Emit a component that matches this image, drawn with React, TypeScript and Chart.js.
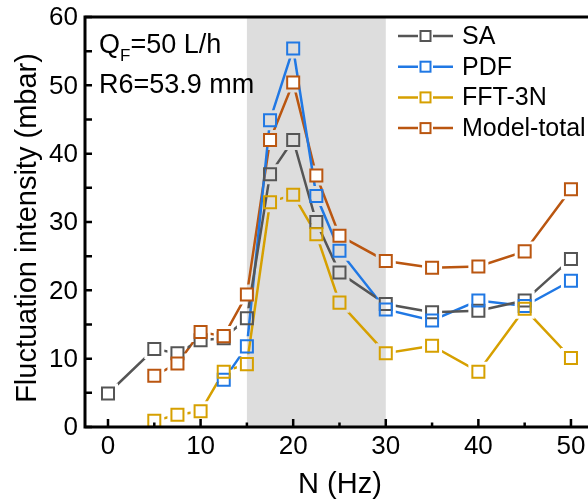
import React, { useEffect, useRef } from "react";
import { Chart, registerables } from "chart.js";

Chart.register(...registerables);

const SERIES_NAMES = ["SA", "PDF", "FFT-3N", "Model-total"];
const SERIES_COLORS = ["rgb(85,85,85)", "rgb(32,120,228)", "rgb(214,160,0)", "rgb(186,86,16)"];
const SERIES_FILLS = ["rgba(0,0,0,0)", "rgba(0,0,0,0)", "rgba(0,0,0,0)", "#ffffff"];

const SA_N = [0, 5, 7.5, 10, 12.5, 15, 17.5, 20, 22.5, 25, 30, 35, 40, 45, 50];
const SA_VALUES = [4.9, 11.4, 10.8, 12.7, 13.0, 15.9, 37.0, 42.0, 30.0, 22.6, 18.0, 16.8, 17.0, 18.5, 24.6];

const PDF_N = [12.5, 15, 17.5, 20, 22.5, 25, 30, 35, 40, 45, 50];
const PDF_VALUES = [6.9, 11.8, 44.9, 55.4, 33.8, 25.8, 17.2, 15.6, 18.5, 17.7, 21.4];

const FFT_N = [5, 7.5, 10, 12.5, 15, 17.5, 20, 22.5, 25, 30, 35, 40, 45, 50];
const FFT_VALUES = [0.9, 1.8, 2.3, 8.1, 9.2, 32.9, 34.0, 28.2, 18.2, 10.8, 11.9, 8.1, 17.3, 10.1];

const MODEL_N = [5, 7.5, 10, 12.5, 15, 17.5, 20, 22.5, 25, 30, 35, 40, 45, 50];
const MODEL_VALUES = [7.5, 9.3, 13.9, 13.3, 19.4, 42.0, 50.4, 36.8, 28.0, 24.3, 23.3, 23.5, 25.7, 34.8];

const X_TICKS = [0, 10, 20, 30, 40, 50];
const X_MINOR = [5, 15, 25, 35, 45];
const Y_TICKS = [0, 10, 20, 30, 40, 50, 60];
const Y_MINOR = [5, 15, 25, 35, 45, 55];
const SHADE_RANGE = [15, 30];

const X_TITLE = "N (Hz)";
const Y_TITLE = "Fluctuation intensity (mbar)";

const FONT = "'Liberation Sans', Arial, sans-serif";

const ALL_N = [SA_N, PDF_N, FFT_N, MODEL_N];
const ALL_V = [SA_VALUES, PDF_VALUES, FFT_VALUES, MODEL_VALUES];

const GAP = 10;

const decorPlugin = {
  id: "decor",
  beforeDatasetsDraw(chart: any) {
    const { ctx, chartArea, scales } = chart;
    const x0 = scales.x.getPixelForValue(SHADE_RANGE[0]);
    const x1 = scales.x.getPixelForValue(SHADE_RANGE[1]);
    ctx.save();
    ctx.fillStyle = "rgb(221,221,221)";
    ctx.fillRect(x0, chartArea.top, x1 - x0, chartArea.bottom - chartArea.top);
    ctx.restore();
  },
  beforeDatasetDraw(chart: any, args: any) {
    const ds = chart.data.datasets[args.index];
    if (!ds.gapClip) return;
    const ctx = chart.ctx;
    ctx.save();
    ctx.beginPath();
    ctx.rect(0, 0, chart.width, chart.height);
    args.meta.data.forEach((p: any) => {
      ctx.rect(p.x - GAP, p.y - GAP, GAP * 2, GAP * 2);
    });
    ctx.clip("evenodd");
  },
  afterDatasetDraw(chart: any, args: any) {
    const ds = chart.data.datasets[args.index];
    if (!ds.gapClip) return;
    chart.ctx.restore();
  },
  afterDraw(chart: any) {
    const { ctx, chartArea, scales } = chart;
    const { left, right, top, bottom } = chartArea;
    ctx.save();
    ctx.strokeStyle = "#000";
    ctx.lineWidth = 3;
    ctx.lineCap = "butt";
    // axes and top border
    ctx.beginPath();
    ctx.moveTo(left, top - 1.5);
    ctx.lineTo(left, bottom + 1.5);
    ctx.moveTo(left - 1.5, bottom);
    ctx.lineTo(right, bottom);
    ctx.moveTo(left - 1.5, top);
    ctx.lineTo(right, top);
    ctx.stroke();
    // ticks
    ctx.lineWidth = 2.5;
    ctx.beginPath();
    X_TICKS.forEach((v) => {
      const x = scales.x.getPixelForValue(v);
      ctx.moveTo(x, bottom);
      ctx.lineTo(x, bottom - 8);
    });
    X_MINOR.forEach((v) => {
      const x = scales.x.getPixelForValue(v);
      ctx.moveTo(x, bottom);
      ctx.lineTo(x, bottom - 4.5);
    });
    Y_TICKS.concat(Y_MINOR).forEach((v) => {
      const y = scales.y.getPixelForValue(v);
      ctx.moveTo(left, y);
      ctx.lineTo(left + 7, y);
    });
    ctx.stroke();

    // tick labels
    ctx.fillStyle = "#000";
    ctx.font = `26px ${FONT}`;
    ctx.textAlign = "center";
    ctx.textBaseline = "middle";
    X_TICKS.forEach((v) => {
      ctx.fillText(String(v), scales.x.getPixelForValue(v), bottom + 20);
    });
    ctx.textAlign = "right";
    Y_TICKS.forEach((v) => {
      ctx.fillText(String(v), left - 7, scales.y.getPixelForValue(v) + 1);
    });

    // axis titles
    ctx.font = `29px ${FONT}`;
    ctx.textAlign = "center";
    ctx.fillText(X_TITLE, 340, bottom + 58);
    ctx.save();
    ctx.translate(28, (top + bottom) / 2 + 6);
    ctx.rotate(-Math.PI / 2);
    ctx.fillText(Y_TITLE, 0, 0);
    ctx.restore();

    // annotation
    ctx.textAlign = "left";
    ctx.textBaseline = "alphabetic";
    ctx.font = `27px ${FONT}`;
    let ax = 99;
    ctx.fillText("Q", ax, 53);
    ax += ctx.measureText("Q").width;
    ctx.font = `17px ${FONT}`;
    ctx.fillText("F", ax, 61);
    ax += ctx.measureText("F").width;
    ctx.font = `27px ${FONT}`;
    ctx.fillText("=50 L/h", ax, 53);
    ctx.fillText("R6=53.9 mm", 99, 93);

    // legend
    ctx.font = `25px ${FONT}`;
    ctx.textBaseline = "middle";
    SERIES_NAMES.forEach((name, i) => {
      const y = 36 + i * 30.7;
      ctx.strokeStyle = SERIES_COLORS[i];
      ctx.lineWidth = 2.5;
      ctx.beginPath();
      ctx.moveTo(398, y);
      ctx.lineTo(418, y);
      ctx.moveTo(433, y);
      ctx.lineTo(453, y);
      ctx.stroke();
      ctx.lineWidth = 2;
      ctx.fillStyle = SERIES_FILLS[i];
      ctx.fillRect(420.5, y - 5, 10, 10);
      ctx.strokeRect(420.5, y - 5, 10, 10);
      ctx.fillStyle = "#000";
      ctx.fillText(name, 462, y + 1);
    });
    ctx.restore();
  },
};

export default function App() {
  const canvasRef = useRef<HTMLCanvasElement | null>(null);

  useEffect(() => {
    if (!canvasRef.current) return;
    const datasets: any[] = [];
    SERIES_NAMES.forEach((name, i) => {
      const pts = ALL_N[i].map((n, j) => ({ x: n, y: ALL_V[i][j] }));
      datasets.push({
        label: name + " line",
        data: pts,
        borderColor: SERIES_COLORS[i],
        borderWidth: 2.5,
        pointRadius: 0,
        pointHoverRadius: 0,
        fill: false,
        tension: 0,
        gapClip: true,
        order: 10 + i,
      });
    });
    SERIES_NAMES.forEach((name, i) => {
      const pts = ALL_N[i].map((n, j) => ({ x: n, y: ALL_V[i][j] }));
      datasets.push({
        label: name,
        data: pts,
        showLine: false,
        pointStyle: "rect",
        pointRadius: 8.5,
        pointHoverRadius: 8.5,
        pointBorderWidth: 2,
        pointBorderColor: SERIES_COLORS[i],
        pointBackgroundColor: SERIES_FILLS[i],
        borderColor: SERIES_COLORS[i],
        order: 3 - i,
      });
    });

    const chart = new Chart(canvasRef.current, {
      type: "line",
      data: { datasets },
      options: {
        responsive: false,
        animation: false,
        events: [],
        layout: { autoPadding: false, padding: { left: 85, top: 17, right: 0, bottom: 76 } },
        scales: {
          x: { type: "linear", min: -2.484, max: 51.84, display: false },
          y: { type: "linear", min: 0, max: 60, display: false },
        },
        plugins: {
          legend: { display: false },
          tooltip: { enabled: false },
        },
      },
      plugins: [decorPlugin],
    });
    return () => chart.destroy();
  }, []);

  return (
    <div style={{ position: "fixed", left: 0, top: 0, width: 588, height: 503, background: "#fff" }}>
      <canvas ref={canvasRef} width={588} height={503} />
    </div>
  );
}
